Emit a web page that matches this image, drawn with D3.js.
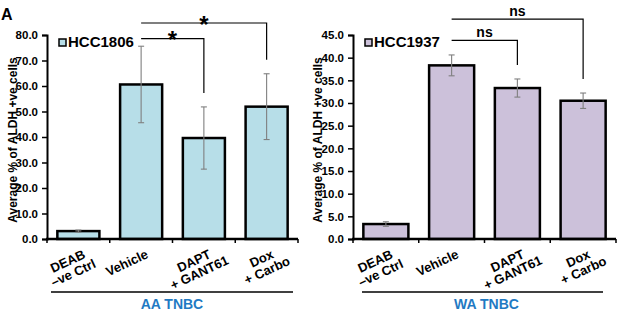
<!DOCTYPE html>
<html>
<head>
<meta charset="utf-8">
<script src="https://cdn.jsdelivr.net/npm/d3@7"></script>
<style>
  body { margin: 0; background: #fff; }
  svg { display: block; font-family: "Liberation Sans", Arial, sans-serif; }
</style>
</head>
<body>
<svg id="chart" width="617" height="311"></svg>
<script>
// categories + labels (split over lines like the figure)
const categories = ["DEAB -ve Ctrl", "Vehicle", "DAPT + GANT61", "Dox + Carbo"];
const categoryLines = [["DEAB", "\u2013ve Ctrl"], ["Vehicle"], ["DAPT", "+ GANT61"], ["Dox", "+ Carbo"]];

// HCC1806 (AA TNBC)
const hcc1806Values = [3.1, 60.6, 39.6, 51.9];
const hcc1806Errors = [0.4, 15.0, 12.2, 12.9];
const aaTicks = [0, 10, 20, 30, 40, 50, 60, 70, 80];
// significance brackets: bracket level in data units
const aaComparisons = [
  {from: "Vehicle", to: "DAPT + GANT61", label: "*", level: 78.6},
  {from: "Vehicle", to: "Dox + Carbo", label: "*", level: 84.7}
];

// HCC1937 (WA TNBC)
const hcc1937Values = [3.3, 38.3, 33.3, 30.5];
const hcc1937Errors = [0.5, 2.3, 2.0, 1.7];
const waTicks = [0, 5, 10, 15, 20, 25, 30, 35, 40, 45];
const waComparisons = [
  {from: "Vehicle", to: "DAPT + GANT61", label: "ns", level: 43.8},
  {from: "Vehicle", to: "Dox + Carbo", label: "ns", level: 48.5}
];

const svg = d3.select("#chart");

svg.append("text")
  .attr("x", 1).attr("y", 20)
  .attr("font-size", 16).attr("font-weight", "bold")
  .text("A");

function drawPanel(p) {
  const g = svg.append("g");
  const x = d3.scaleBand().domain(categories).range(p.xRange)
    .paddingInner(p.pad).paddingOuter(p.pad / 2);
  const y = d3.scaleLinear().domain([0, d3.max(p.ticks)]).range([239, 35]);
  const bw = x.bandwidth();
  const rows = categories.map((c, i) => ({c, v: p.values[i], e: p.errors[i], lines: categoryLines[i]}));

  // bars
  g.selectAll("rect.bar").data(rows).join("rect")
    .attr("class", "bar")
    .attr("x", d => x(d.c)).attr("width", bw)
    .attr("y", d => y(d.v)).attr("height", d => y(0) - y(d.v))
    .attr("fill", p.color).attr("stroke", "#000").attr("stroke-width", 2.5);

  // error bars
  const eb = g.selectAll("g.err").data(rows).join("g").attr("class", "err")
    .attr("stroke", "#7f7f7f").attr("stroke-width", 1.1);
  eb.append("line")
    .attr("x1", d => x(d.c) + bw / 2).attr("x2", d => x(d.c) + bw / 2)
    .attr("y1", d => y(d.v + d.e)).attr("y2", d => y(d.v - d.e));
  eb.append("line")
    .attr("x1", d => x(d.c) + bw / 2 - 3).attr("x2", d => x(d.c) + bw / 2 + 3)
    .attr("y1", d => y(d.v + d.e)).attr("y2", d => y(d.v + d.e));
  eb.append("line")
    .attr("x1", d => x(d.c) + bw / 2 - 3).attr("x2", d => x(d.c) + bw / 2 + 3)
    .attr("y1", d => y(d.v - d.e)).attr("y2", d => y(d.v - d.e));

  // y axis
  const ya = g.append("g")
    .attr("transform", `translate(${p.xRange[0]},0)`)
    .call(d3.axisLeft(y).tickValues(p.ticks).tickFormat(d3.format(".1f"))
      .tickSizeOuter(0).tickSize(5).tickPadding(4));
  ya.select(".domain").attr("stroke-width", 2);
  ya.selectAll(".tick line").attr("stroke-width", 1.5);
  ya.selectAll("text").attr("font-size", 11.5).attr("font-weight", "bold")
    .attr("font-family", "Liberation Sans, Arial, sans-serif");

  // x axis: line + ticks between categories
  const step = x.step();
  const bounds = d3.range(categories.length + 1).map(i => p.xRange[0] + i * step);
  g.append("line")
    .attr("x1", p.xRange[0] - 1).attr("x2", p.xRange[1])
    .attr("y1", y(0)).attr("y2", y(0))
    .attr("stroke", "#000").attr("stroke-width", 2.5);
  g.selectAll("line.xt").data(bounds).join("line").attr("class", "xt")
    .attr("x1", d => d).attr("x2", d => d)
    .attr("y1", y(0)).attr("y2", y(0) + 4)
    .attr("stroke", "#000").attr("stroke-width", 1.5);

  // category labels rotated -25deg; first line's top-right sits just below the bar centre,
  // further lines centred under it
  rows.forEach(d => {
    const ax = x(d.c) + bw / 2 + 4, ay = y(0) + 10;
    const texts = d.lines.map((s, i) => g.append("text")
      .attr("font-size", 13).attr("font-weight", "bold")
      .attr("text-anchor", "middle")
      .attr("transform", `translate(${ax},${ay}) rotate(-25)`)
      .attr("y", 9.3 + i * 13)
      .text(s));
    const w1 = texts[0].node().getComputedTextLength();
    texts.forEach(s => s.attr("x", -w1 / 2));
  });

  // y title
  g.append("text")
    .attr("transform", `translate(${p.titleX},140) rotate(-90)`)
    .attr("text-anchor", "middle").attr("dy", "0.35em")
    .attr("font-size", 12).attr("font-weight", "bold")
    .text("Average % of ALDH +ve cells");

  // legend
  const lx = p.xRange[0] + 12;
  g.append("rect").attr("x", lx).attr("y", 39).attr("width", 7).attr("height", 7)
    .attr("fill", p.color).attr("stroke", "#000").attr("stroke-width", 1.5);
  g.append("text").attr("x", lx + 9).attr("y", 47)
    .attr("font-size", 15).attr("font-weight", "bold")
    .text(p.legend);

  // significance brackets
  const byCat = new Map(rows.map(d => [d.c, d]));
  p.comparisons.forEach(cmp => {
    const xa = x(cmp.from) + bw / 2;
    const xb = x(cmp.to) + bw / 2;
    const top = y(cmp.level);
    const tgt = byCat.get(cmp.to);
    const drop = y(tgt.v + tgt.e) - 14;
    g.append("path")
      .attr("d", `M${xa},${top}H${xb}V${drop}`)
      .attr("fill", "none").attr("stroke", "#000").attr("stroke-width", 1.2);
    const star = cmp.label === "*";
    g.append("text")
      .attr("x", (xa + xb) / 2).attr("y", star ? top + 9.5 : top - 3.5)
      .attr("text-anchor", "middle")
      .attr("font-size", star ? 24 : 14).attr("font-weight", "bold")
      .text(cmp.label);
  });

  // group line + label
  g.append("line")
    .attr("x1", p.groupRange[0]).attr("x2", p.groupRange[1])
    .attr("y1", 292).attr("y2", 292)
    .attr("stroke", "#000").attr("stroke-width", 1.5);
  g.append("text")
    .attr("x", (p.groupRange[0] + p.groupRange[1]) / 2 + p.groupShift).attr("y", 309)
    .attr("text-anchor", "middle")
    .attr("font-size", 14).attr("font-weight", "bold").attr("fill", "#1f7ac3")
    .text(p.group);
}

drawPanel({
  xRange: [47, 298], pad: 0.33, ticks: aaTicks,
  values: hcc1806Values, errors: hcc1806Errors,
  color: "#b7dee8", legend: "HCC1806", comparisons: aaComparisons,
  titleX: 13, groupRange: [51, 293], groupShift: 0, group: "AA TNBC"
});

drawPanel({
  xRange: [353, 616], pad: 0.315, ticks: waTicks,
  values: hcc1937Values, errors: hcc1937Errors,
  color: "#ccc1da", legend: "HCC1937", comparisons: waComparisons,
  titleX: 318, groupRange: [362, 603], groupShift: 4, group: "WA TNBC"
});
</script>
</body>
</html>
